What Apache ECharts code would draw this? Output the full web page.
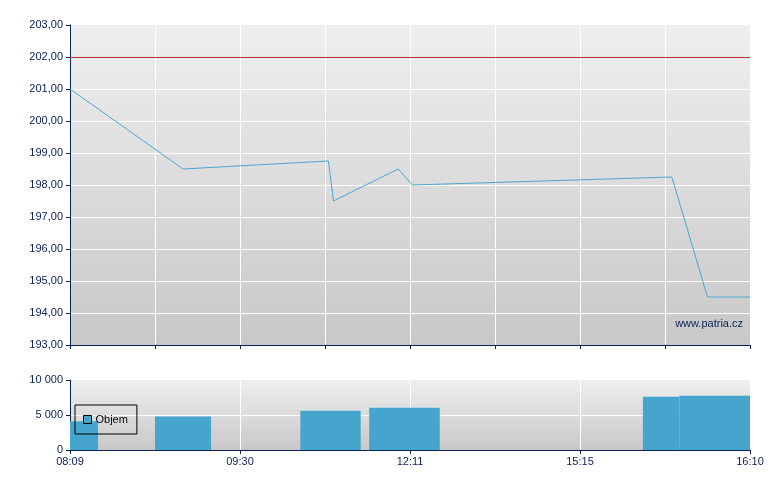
<!DOCTYPE html>
<html>
<head>
<meta charset="utf-8">
<script src="https://cdn.jsdelivr.net/npm/echarts@6/dist/echarts.min.js"></script>
<style>
html,body{margin:0;padding:0;background:#fff;}
#c{width:780px;height:490px;}
</style>
</head>
<body>
<div id="c"></div>
<script>
// Trading-session slot axis (each unit = one tick on the price chart)
var xTickLabels = ['08:09', '09:30', '12:11', '15:15', '16:10']; // at slots 0,2,4,6,8
var priceX = [0, 1.33, 3.04, 3.10, 3.86, 4.03, 7.08, 7.50, 8];
var priceY = [201.0, 198.5, 198.75, 197.5, 198.5, 198.0, 198.25, 194.5, 194.5];
var refLevel = 202;
var barStart = [0, 1.0, 2.71, 3.52, 6.74, 7.17];
var barEnd = [0.33, 1.66, 3.42, 4.35, 7.17, 8];
var barVol = [4100, 4780, 5600, 6050, 7600, 7750];

var NAVY = '#0b2053';
var FONT = 'Liberation Sans';
var bg = {
  type: 'linear', x: 0, y: 0, x2: 0, y2: 1,
  colorStops: [{offset: 0, color: '#efefef'}, {offset: 1, color: '#c8c8c8'}]
};

var linePts = priceX.map(function (x, i) { return [x, priceY[i]]; });
var barData = barStart.map(function (s, i) { return [s, barEnd[i], barVol[i]]; });

var chart = echarts.init(document.getElementById('c'), null, {renderer: 'canvas'});
chart.setOption({
  animation: false,
  textStyle: {fontFamily: FONT},
  grid: [
    {left: 70, right: 30, top: 25, height: 320, show: true, backgroundColor: bg, borderWidth: 0},
    {left: 70, right: 30, top: 380, height: 70, show: true, backgroundColor: bg, borderWidth: 0}
  ],
  legend: {
    data: [{name: 'Objem', icon: 'rect'}],
    left: 75, top: 405,
    orient: 'vertical',
    padding: [9, 9, 9, 8],
    itemWidth: 8, itemHeight: 8,
    borderColor: '#000', borderWidth: 1,
    backgroundColor: 'transparent',
    itemStyle: {borderColor: '#000', borderWidth: 1},
    textStyle: {color: '#000', fontSize: 11, fontFamily: FONT, padding: [0, 0, 0, -1]}
  },
  xAxis: [
    {
      type: 'value', gridIndex: 0, min: 0, max: 8, interval: 1,
      axisLine: {show: true, onZero: false, lineStyle: {color: NAVY, width: 1}},
      axisTick: {show: true, length: 4, lineStyle: {color: NAVY}},
      axisLabel: {show: false},
      splitLine: {show: true, lineStyle: {color: '#ffffff', width: 1}}
    },
    {
      type: 'value', gridIndex: 1, min: 0, max: 8, interval: 2,
      axisLine: {show: true, onZero: false, lineStyle: {color: NAVY, width: 1}},
      axisTick: {show: true, length: 4, lineStyle: {color: NAVY}},
      axisLabel: {
        show: true, color: NAVY, fontSize: 11, fontFamily: FONT, margin: 6,
        formatter: function (v) { return xTickLabels[Math.round(v / 2)] || ''; }
      },
      splitLine: {show: true, lineStyle: {color: '#ffffff', width: 1}}
    }
  ],
  yAxis: [
    {
      type: 'value', gridIndex: 0, min: 193, max: 203, interval: 1,
      axisLine: {show: true, lineStyle: {color: NAVY, width: 1}},
      axisTick: {show: true, length: 4, lineStyle: {color: NAVY}},
      axisLabel: {
        color: NAVY, fontSize: 11, fontFamily: FONT, margin: 7,
        formatter: function (v) { return v.toFixed(2).replace('.', ','); }
      },
      splitLine: {show: true, showMaxLine: false, lineStyle: {color: '#ffffff', width: 1}}
    },
    {
      type: 'value', gridIndex: 1, min: 0, max: 10000, interval: 5000,
      axisLine: {show: true, lineStyle: {color: NAVY, width: 1}},
      axisTick: {show: true, length: 4, lineStyle: {color: NAVY}},
      axisLabel: {
        color: NAVY, fontSize: 11, fontFamily: FONT, margin: 7,
        formatter: function (v) { return String(v).replace(/\B(?=(\d{3})+(?!\d))/g, ' '); }
      },
      splitLine: {show: true, showMaxLine: false, lineStyle: {color: '#ffffff', width: 1}}
    }
  ],
  series: [
    {
      name: 'Cena', type: 'line', xAxisIndex: 0, yAxisIndex: 0,
      data: linePts, symbol: 'none', silent: true,
      lineStyle: {color: '#4ba6d1', width: 1},
      itemStyle: {color: '#4ba6d1'},
      markLine: {
        silent: true, symbol: ['none', 'none'], label: {show: false},
        lineStyle: {color: '#b8302a', width: 1, type: 'solid'},
        data: [{yAxis: refLevel}]
      },
      z: 3
    },
    {
      name: 'Objem', type: 'custom', xAxisIndex: 1, yAxisIndex: 1,
      data: barData,
      itemStyle: {color: '#45a5cd'},
      encode: {x: [0, 1], y: 2},
      renderItem: function (params, api) {
        var p0 = api.coord([api.value(0), api.value(2)]);
        var p1 = api.coord([api.value(1), 0]);
        return {
          type: 'rect',
          shape: {x: p0[0], y: p0[1], width: p1[0] - p0[0], height: p1[1] - p0[1]},
          style: {fill: '#45a5cd'}
        };
      },
      z: 2
    }
  ],
  graphic: [
    {
      type: 'text', right: 37, top: 318, z: 10,
      style: {text: 'www.patria.cz', fill: NAVY, font: '11px "Liberation Sans"'}
    }
  ]
});
</script>
</body>
</html>
